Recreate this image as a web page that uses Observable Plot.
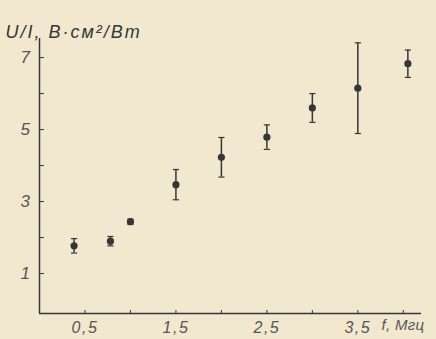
<!DOCTYPE html>
<html>
<head>
<meta charset="utf-8">
<script src="https://cdn.jsdelivr.net/npm/d3@7"></script>
<script src="https://cdn.jsdelivr.net/npm/@observablehq/plot@0.6"></script>
<style>
  html, body { margin: 0; padding: 0; background: #f2e8d0; }
  #chart { width: 436px; height: 339px; }
  #chart svg text { letter-spacing: 1.5px; }
  #chart svg text.ylab { letter-spacing: 2px; }
  #chart svg text.xlab { letter-spacing: 0.3px; }
</style>
</head>
<body>
<div id="chart"></div>
<script>
// Frequency f, MHz
const freq = [0.38, 0.78, 1.0, 1.5, 2.0, 2.5, 3.0, 3.5, 4.05];
// U/I, V·cm²/W
const ratio = [1.77, 1.9, 2.44, 3.47, 4.23, 4.79, 5.6, 6.15, 6.83];
// half-width of error bars
const errHalf = [0.2, 0.13, 0.07, 0.42, 0.55, 0.34, 0.4, 1.26, 0.38];

const xTicks = [0.5, 1.0, 1.5, 2.0, 2.5, 3.0, 3.5, 4.0];
const xTickLabels = [0.5, 1.5, 2.5, 3.5];
const yTicks = [1, 2, 3, 4, 5, 6, 7];
const yTickLabels = [1, 3, 5, 7];

const xDomain = [0, 4.2];
const yDomain = [-0.11, 7.53];

const yLabel = "U/I, В·см²/Вт";
const xLabel = "f, Мгц";

const data = freq.map((f, i) => ({f, v: ratio[i], lo: ratio[i] - errHalf[i], hi: ratio[i] + errHalf[i]}));

const capSymbol = {
  draw(context, size) {
    const w = Math.sqrt(size) / 2;
    context.moveTo(-w, 0);
    context.lineTo(w, 0);
  }
};

const W = 436, H = 339, mL = 39, mR = 15, mT = 38, mB = 26;
const frameW = W - mL - mR, frameH = H - mT - mB;
const ink = "#363636";
const labelInk = "#555";

const chart = Plot.plot({
  width: W, height: H,
  marginLeft: mL, marginRight: mR, marginTop: mT, marginBottom: mB,
  style: {background: "#f2e8d0", fontFamily: "'Liberation Sans', Arial, sans-serif", fontStyle: "italic"},
  x: {domain: xDomain},
  y: {domain: yDomain},
  marks: [
    // axis lines
    Plot.ruleX([xDomain[0]], {stroke: ink, strokeWidth: 1.5}),
    Plot.ruleY([yDomain[0]], {stroke: ink, strokeWidth: 1.5}),
    // inward tick marks
    Plot.tickY(yTicks, {y: d => d, stroke: ink, strokeWidth: 1, insetRight: frameW - 5}),
    Plot.tickX(xTicks, {x: d => d, stroke: ink, strokeWidth: 1, insetTop: frameH - 3}),
    // tick labels
    Plot.axisY({ticks: yTickLabels, tickSize: 0, tickPadding: 8, tickFormat: d => String(d), fontSize: 17, fill: labelInk, label: null}),
    Plot.axisX({ticks: xTickLabels, tickSize: 0, tickPadding: 8, tickFormat: d => String(d).replace(".", ","), fontSize: 16, fill: labelInk, label: null}),
    // error bars
    Plot.ruleX(data, {x: "f", y1: "lo", y2: "hi", stroke: ink, strokeWidth: 1.5}),
    Plot.dot(data, {x: "f", y: "lo", symbol: capSymbol, r: 3.5, stroke: ink, strokeWidth: 1.2, fill: "none"}),
    Plot.dot(data, {x: "f", y: "hi", symbol: capSymbol, r: 3.5, stroke: ink, strokeWidth: 1.2, fill: "none"}),
    // points
    Plot.dot(data, {x: "f", y: "v", r: 3.6, fill: ink, stroke: "none"}),
    // axis titles
    Plot.text([yLabel], {frameAnchor: "top-left", textAnchor: "start", dx: -34, dy: -13, fontSize: 18, fill: ink, text: d => d}),
    Plot.text([xLabel], {frameAnchor: "bottom-right", textAnchor: "start", dx: -40, dy: 16, fontSize: 15, fill: labelInk, text: d => d})
  ]
});
document.getElementById("chart").appendChild(chart);
d3.select(chart).selectAll("text").filter(function () { return this.textContent === yLabel; }).classed("ylab", true);
d3.select(chart).selectAll("text").filter(function () { return this.textContent === xLabel; }).classed("xlab", true);
</script>
</body>
</html>
